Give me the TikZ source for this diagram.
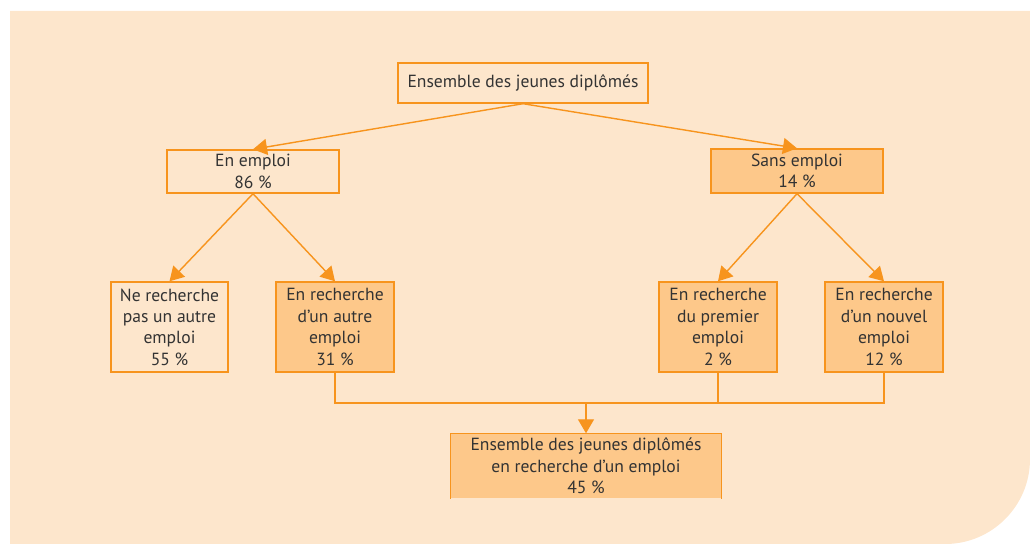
\documentclass[tikz,border=0pt]{standalone}
\usepackage{fontspec}
\setmainfont{PT Sans}
\usetikzlibrary{arrows.meta}
\definecolor{fondbeige}{RGB}{253,230,204}
\definecolor{trait}{RGB}{247,148,29}
\definecolor{remplir}{RGB}{253,200,138}
\definecolor{texte}{RGB}{51,51,51}

\begin{document}
\begin{tikzpicture}[x=0.025cm,y=-0.025cm,
    boite/.style={draw=trait,line width=1pt,text=texte,align=center,inner sep=0pt,
      font=\fontsize{12.5}{15.2}\selectfont},
    boiteplein/.style={boite,fill=remplir},
    fleche/.style={draw=trait,line width=1pt,-{Triangle[length=0.35cm,width=0.4cm]}},
    lien/.style={draw=trait,line width=1pt}]
      \useasboundingbox (0,0) rectangle (1030,544);
      \fill[fondbeige] (10,11) -- (1030,11) -- (1030,459)
        arc[start angle=0,end angle=-90,radius=2.125cm] -- (10,544) -- cycle;
      \node[boite,minimum width=6.25cm,minimum height=1cm] (Tous) at (523,83) {Ensemble des jeunes diplômés};
      \node[boite,minimum width=4.3cm,minimum height=1.075cm] (Emploi) at (253,171.5) {En emploi\\86 \%};
      \node[boiteplein,minimum width=4.3cm,minimum height=1.1cm] (SansEmploi) at (797,171) {Sans emploi\\14 \%};
      \node[boite,minimum width=2.925cm,minimum height=2.25cm] (PasAutre) at (169.5,327) {Ne recherche\\pas un autre\\emploi\\55 \%};
      \node[boiteplein,minimum width=2.95cm,minimum height=2.25cm] (Autre) at (335,327) {En recherche\\d’un autre\\emploi\\31 \%};
      \node[boiteplein,minimum width=2.95cm,minimum height=2.25cm] (Premier) at (718,327) {En recherche\\du premier\\emploi\\2 \%};
      \node[boiteplein,minimum width=2.95cm,minimum height=2.25cm] (Nouvel) at (884,327) {En recherche\\d’un nouvel\\emploi\\12 \%};
      \node[boiteplein,draw=none,minimum width=6.75cm,minimum height=1.6cm] (Recherche) at (586,466) {Ensemble des jeunes diplômés\\en recherche d’un emploi\\45 \%};
      \draw[lien] (Recherche.south west) -- (Recherche.north west) -- (Recherche.north east) -- (Recherche.south east);
      \coordinate (Jonction) at (586,403);
      \draw[fleche] (Tous.south) -- (Emploi.north);
      \draw[fleche] (Tous.south) -- (SansEmploi.north);
      \draw[fleche] (Emploi.south) -- (PasAutre.north);
      \draw[fleche] (Emploi.south) -- (Autre.north);
      \draw[fleche] (SansEmploi.south) -- (Premier.north);
      \draw[fleche] (SansEmploi.south) -- (Nouvel.north);
      \draw[lien] (Autre.south) |- (Jonction) -| (Nouvel.south);
      \draw[lien] (Premier.south) -- (Premier.south |- Jonction);
      \draw[fleche] (Jonction) -- (Recherche.north);
    \end{tikzpicture}
\end{document}
